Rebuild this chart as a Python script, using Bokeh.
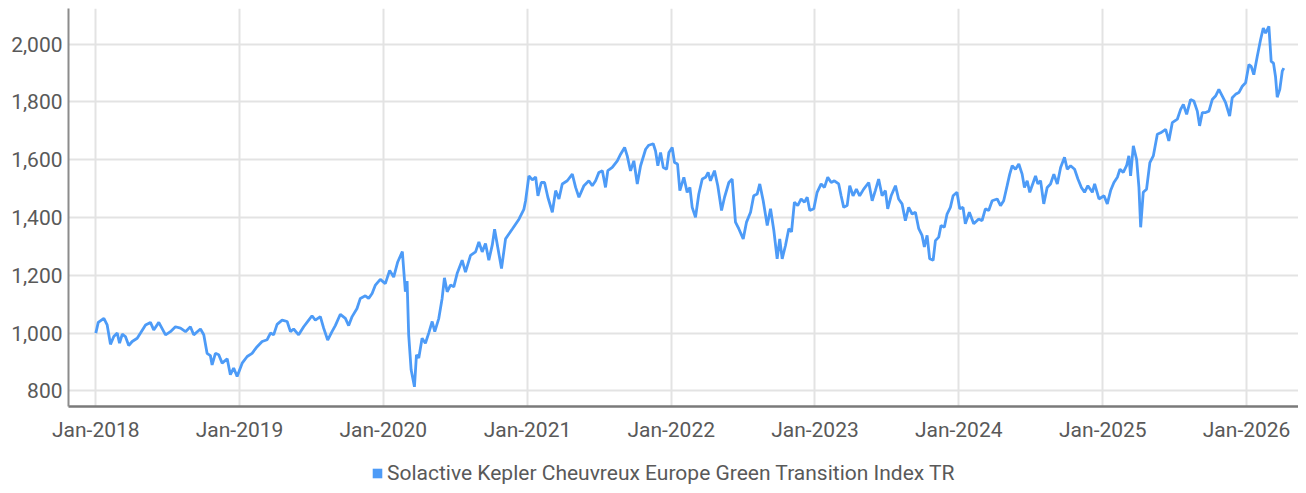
import pandas as pd
from bokeh.plotting import figure
from bokeh.layouts import column
from bokeh.models import (Range1d, FixedTicker, DatetimeTickFormatter, NumeralTickFormatter,
                          Legend, LegendItem, ColumnDataSource)
from bokeh.embed import file_html
from bokeh.resources import INLINE

# ---- data (decimal year, index level) ----
t_2018_19 = [2018.000, 2018.017, 2018.056, 2018.079, 2018.102, 2018.125, 2018.149, 2018.165,
             2018.184, 2018.206, 2018.229, 2018.253, 2018.288, 2018.311, 2018.346, 2018.380,
             2018.403, 2018.438, 2018.485, 2018.519, 2018.554, 2018.589, 2018.624, 2018.658,
             2018.681, 2018.728, 2018.751, 2018.774, 2018.797, 2018.809, 2018.832, 2018.855,
             2018.879, 2018.914, 2018.936, 2018.959, 2018.983, 2019.018, 2019.053, 2019.087,
             2019.122, 2019.157, 2019.192, 2019.215, 2019.237, 2019.261, 2019.296, 2019.331,
             2019.354, 2019.376, 2019.411, 2019.446, 2019.481, 2019.504, 2019.527, 2019.562,
             2019.585, 2019.613, 2019.643, 2019.666, 2019.701, 2019.736, 2019.759, 2019.783,
             2019.817, 2019.840, 2019.875, 2019.898, 2019.922, 2019.945, 2019.979]
v_2018_19 = [1000, 1037, 1051, 1028, 961, 988, 1000, 965,
             996, 988, 957, 971, 982, 1000, 1028, 1037,
             1011, 1037, 994, 1005, 1022, 1017, 1005, 1022,
             994, 1014, 994, 930, 922, 890, 930, 925,
             896, 911, 856, 879, 850, 896, 919, 930,
             953, 971, 977, 1000, 994, 1030, 1045, 1040,
             1005, 1014, 994, 1022, 1045, 1060, 1045, 1057,
             1017, 976, 1005, 1026, 1065, 1051, 1026, 1057,
             1085, 1120, 1129, 1120, 1137, 1166, 1186]

t_2020 = [2020.014, 2020.044, 2020.072, 2020.100, 2020.132, 2020.153, 2020.165, 2020.176,
          2020.193, 2020.216, 2020.230, 2020.246, 2020.269, 2020.292, 2020.315, 2020.339,
          2020.357, 2020.385, 2020.408, 2020.424, 2020.443, 2020.466, 2020.489, 2020.512,
          2020.547, 2020.570, 2020.605, 2020.640, 2020.663, 2020.686, 2020.709, 2020.732,
          2020.756, 2020.772, 2020.820, 2020.848, 2020.895, 2020.941, 2020.975, 2020.987]
v_2020 = [1171, 1217, 1194, 1246, 1282, 1143, 1180, 994,
          873, 814, 925, 914, 982, 965, 1000, 1040,
          1005, 1051, 1120, 1191, 1143, 1166, 1160, 1206,
          1252, 1211, 1269, 1281, 1315, 1281, 1310, 1252,
          1305, 1359, 1223, 1326, 1360, 1394, 1428, 1458]

t_2021_22 = [2021.010, 2021.034, 2021.057, 2021.073, 2021.096, 2021.119, 2021.142, 2021.173,
             2021.196, 2021.219, 2021.242, 2021.277, 2021.312, 2021.335, 2021.358, 2021.393,
             2021.427, 2021.451, 2021.474, 2021.497, 2021.521, 2021.543, 2021.559, 2021.590,
             2021.625, 2021.648, 2021.676, 2021.694, 2021.717, 2021.740, 2021.764, 2021.787,
             2021.822, 2021.844, 2021.875, 2021.891, 2021.907, 2021.926, 2021.945, 2021.968,
             2021.984, 2022.007, 2022.023, 2022.044, 2022.060, 2022.088, 2022.111, 2022.130,
             2022.146, 2022.169, 2022.192, 2022.216, 2022.239, 2022.257, 2022.273, 2022.301,
             2022.324, 2022.350, 2022.371, 2022.401, 2022.424, 2022.447, 2022.470, 2022.501,
             2022.524, 2022.552, 2022.574, 2022.598, 2022.616, 2022.640, 2022.668, 2022.691,
             2022.714, 2022.737, 2022.755, 2022.772, 2022.795, 2022.818, 2022.837, 2022.857,
             2022.880, 2022.904, 2022.927, 2022.946, 2022.964, 2022.992]
v_2021_22 = [1544, 1530, 1540, 1475, 1521, 1521, 1470, 1418,
             1493, 1464, 1516, 1527, 1550, 1504, 1470, 1510,
             1527, 1510, 1527, 1556, 1562, 1504, 1562, 1573,
             1596, 1619, 1642, 1613, 1561, 1596, 1516, 1579,
             1636, 1650, 1655, 1630, 1579, 1625, 1573, 1567,
             1625, 1642, 1590, 1585, 1493, 1539, 1487, 1504,
             1435, 1401, 1481, 1533, 1539, 1556, 1527, 1562,
             1510, 1424, 1470, 1521, 1533, 1384, 1361, 1326,
             1384, 1418, 1475, 1481, 1516, 1458, 1372, 1430,
             1355, 1257, 1326, 1257, 1303, 1361, 1350, 1453,
             1441, 1464, 1453, 1470, 1424, 1430]

t_2023_24 = [2023.015, 2023.043, 2023.066, 2023.089, 2023.113, 2023.135, 2023.165, 2023.182,
             2023.200, 2023.224, 2023.242, 2023.265, 2023.288, 2023.311, 2023.339, 2023.374,
             2023.398, 2023.420, 2023.443, 2023.467, 2023.490, 2023.506, 2023.530, 2023.560,
             2023.582, 2023.606, 2023.629, 2023.652, 2023.676, 2023.699, 2023.722, 2023.745,
             2023.761, 2023.780, 2023.798, 2023.822, 2023.838, 2023.861, 2023.877, 2023.900,
             2023.919, 2023.942, 2023.961, 2023.988, 2024.007, 2024.030, 2024.046, 2024.074,
             2024.104, 2024.139, 2024.162, 2024.185, 2024.208, 2024.232, 2024.267, 2024.290,
             2024.312, 2024.336, 2024.354, 2024.371, 2024.394, 2024.417, 2024.440, 2024.456,
             2024.475, 2024.493, 2024.517, 2024.533, 2024.549, 2024.568, 2024.590, 2024.614,
             2024.637, 2024.660, 2024.684, 2024.707, 2024.734, 2024.753, 2024.776, 2024.804,
             2024.827, 2024.851, 2024.873, 2024.896, 2024.927, 2024.943, 2024.973]
v_2023_24 = [1487, 1516, 1504, 1539, 1521, 1527, 1516, 1475,
             1435, 1441, 1510, 1475, 1498, 1475, 1498, 1521,
             1458, 1493, 1533, 1475, 1493, 1430, 1475, 1510,
             1464, 1447, 1389, 1435, 1412, 1418, 1361, 1338,
             1298, 1338, 1257, 1252, 1320, 1332, 1372, 1366,
             1412, 1435, 1475, 1487, 1430, 1435, 1378, 1418,
             1378, 1395, 1389, 1430, 1424, 1458, 1464, 1441,
             1458, 1510, 1550, 1579, 1567, 1585, 1550, 1504,
             1527, 1487, 1521, 1544, 1516, 1527, 1447, 1504,
             1516, 1550, 1516, 1573, 1608, 1567, 1579, 1567,
             1533, 1504, 1487, 1510, 1487, 1516, 1464]

t_2025_26 = [2025.008, 2025.031, 2025.054, 2025.077, 2025.101, 2025.119, 2025.142, 2025.165,
             2025.181, 2025.193, 2025.212, 2025.235, 2025.251, 2025.263, 2025.281, 2025.304,
             2025.327, 2025.351, 2025.379, 2025.402, 2025.437, 2025.459, 2025.483, 2025.518,
             2025.541, 2025.560, 2025.583, 2025.610, 2025.633, 2025.657, 2025.673, 2025.692,
             2025.715, 2025.738, 2025.761, 2025.784, 2025.807, 2025.831, 2025.854, 2025.882,
             2025.900, 2025.923, 2025.946, 2025.970, 2025.993, 2026.016, 2026.032, 2026.050,
             2026.074, 2026.097, 2026.116, 2026.132, 2026.155, 2026.171, 2026.187, 2026.201,
             2026.213, 2026.231, 2026.248, 2026.259]
v_2025_26 = [1475, 1447, 1493, 1521, 1539, 1567, 1556, 1579,
             1613, 1544, 1648, 1600, 1504, 1366, 1487, 1498,
             1590, 1613, 1688, 1693, 1705, 1665, 1728, 1740,
             1774, 1791, 1757, 1808, 1803, 1768, 1717, 1763,
             1763, 1768, 1808, 1820, 1843, 1820, 1797, 1751,
             1814, 1826, 1832, 1854, 1866, 1929, 1923, 1894,
             1957, 2015, 2055, 2038, 2061, 1940, 1934, 1888,
             1816, 1843, 1906, 1917]

x_ticks_years = [2018, 2019, 2020, 2021, 2022, 2023, 2024, 2025, 2026]
y_ticks = [800, 1000, 1200, 1400, 1600, 1800, 2000]
series_name = "Solactive Kepler Cheuvreux Europe Green Transition Index TR"

# ---- helpers ----
def to_ts(t):
    y = int(t)
    start = pd.Timestamp(year=y, month=1, day=1)
    end = pd.Timestamp(year=y + 1, month=1, day=1)
    return start + (end - start) * (t - y)

t_all = t_2018_19 + t_2020 + t_2021_22 + t_2023_24 + t_2025_26
v_all = v_2018_19 + v_2020 + v_2021_22 + v_2023_24 + v_2025_26
src = ColumnDataSource(dict(date=[to_ts(t) for t in t_all], value=v_all))

FONT = "Roboto"
TXT = "#595959"
BLUE = "#4d9bf7"
W = 1298

# ---- main chart ----
p = figure(width=W, height=444, x_axis_type="datetime", output_backend="svg",
           toolbar_location=None, min_border_left=68, min_border_right=0,
           min_border_top=8, min_border_bottom=36,
           x_range=Range1d(to_ts(2017.810), to_ts(2026.361)),
           y_range=Range1d(746, 2123))
p.outline_line_color = None

p.line("date", "value", source=src, line_color=BLUE, line_width=2.8)

tick_ms = [pd.Timestamp(year=y, month=1, day=1).value // 10**6 for y in x_ticks_years]
p.xaxis.ticker = FixedTicker(ticks=tick_ms)
fmt = "%b-%Y"
p.xaxis.formatter = DatetimeTickFormatter(years=fmt, months=fmt, days=fmt, hours=fmt,
                                          minutes=fmt, seconds=fmt, milliseconds=fmt,
                                          microseconds=fmt, minsec=fmt, hourmin=fmt)
p.yaxis.ticker = FixedTicker(ticks=y_ticks)
p.yaxis.formatter = NumeralTickFormatter(format="0,0")

for ax in (p.xaxis[0], p.yaxis[0]):
    ax.major_tick_out = 0
    ax.major_tick_in = 0
    ax.minor_tick_out = 0
    ax.minor_tick_in = 0
    ax.major_label_text_font = FONT
    ax.major_label_text_font_size = "21px"
    ax.major_label_text_color = TXT
p.xaxis.axis_line_color = "#7a7a7a"
p.xaxis.axis_line_width = 2.5
p.yaxis.axis_line_color = "#8c8c8c"
p.yaxis.axis_line_width = 2
p.xaxis.major_label_standoff = 11
p.yaxis.major_label_standoff = 6

p.xgrid.grid_line_color = "#e3e3e3"
p.ygrid.grid_line_color = "#e3e3e3"
p.xgrid.grid_line_width = 2
p.ygrid.grid_line_width = 2

# ---- legend strip below the chart ----
lg = figure(width=W, height=41, output_backend="svg", toolbar_location=None,
            min_border=0, x_axis_type=None, y_axis_type=None,
            x_range=Range1d(0, 1), y_range=Range1d(0, 1))
lg.outline_line_color = None
lg.xgrid.visible = False
lg.ygrid.visible = False
key = lg.quad(left=[0], right=[0], top=[0], bottom=[0], fill_color=BLUE, line_color=None)

legend = Legend(items=[LegendItem(label=series_name, renderers=[key])],
                location=(303, 0), orientation="horizontal",
                label_text_font=FONT, label_text_font_size="21px",
                label_text_color=TXT, glyph_width=12, glyph_height=12,
                label_standoff=4, padding=0, margin=0, spacing=0,
                border_line_alpha=0, background_fill_alpha=0)
lg.add_layout(legend, "center")

open("out.html", "w").write(file_html(column(p, lg, spacing=0), INLINE))
